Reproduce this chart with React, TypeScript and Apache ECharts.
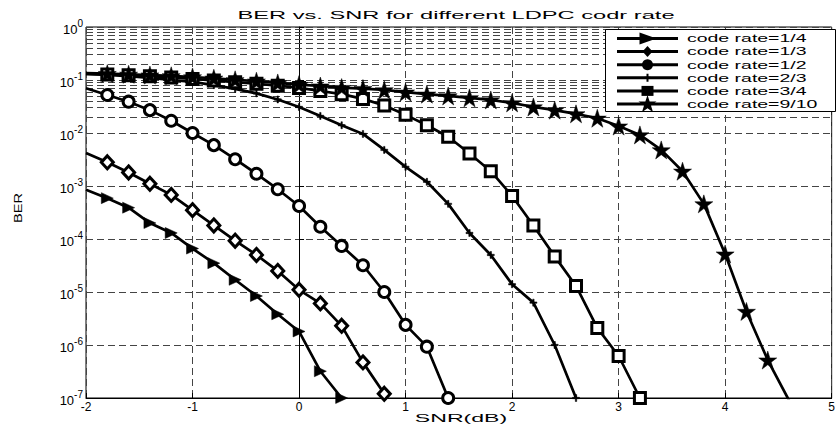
import React, { useEffect, useRef } from "react";
import * as echarts from "echarts";

// SNR (dB) sample points, step 0.2
const snr = [
  -2, -1.8, -1.6, -1.4, -1.2, -1, -0.8, -0.6, -0.4, -0.2, 0, 0.2, 0.4, 0.6, 0.8, 1,
  1.2, 1.4, 1.6, 1.8, 2, 2.2, 2.4, 2.6, 2.8, 3, 3.2, 3.4, 3.6, 3.8, 4, 4.2, 4.4, 4.6,
];

const rate14 = [8.5e-4, 5.9e-4, 3.9e-4, 2.0e-4, 1.3e-4, 6.6e-5, 3.5e-5, 1.7e-5, 8.4e-6, 3.8e-6, 1.8e-6, 3.2e-7, 1.0e-7];
const rate13 = [4.2e-3, 2.8e-3, 1.8e-3, 1.1e-3, 6.8e-4, 3.5e-4, 1.8e-4, 9.3e-5, 5.0e-5, 2.5e-5, 1.1e-5, 6.1e-6, 2.3e-6, 4.7e-7, 1.2e-7];
const rate12 = [7.0e-2, 5.2e-2, 3.9e-2, 2.7e-2, 1.7e-2, 1.0e-2, 5.9e-3, 3.2e-3, 1.7e-3, 8.7e-4, 4.2e-4, 1.7e-4, 7.4e-5, 3.2e-5, 1.0e-5, 2.4e-6, 9.3e-7, 1.0e-7];
const rate23 = [0.13, 0.125, 0.118, 0.11, 0.1, 0.092, 0.08, 0.068, 0.056, 0.043, 0.031, 0.021, 0.014, 9.6e-3, 4.8e-3, 2.3e-3, 1.2e-3, 4.6e-4, 1.3e-4, 5.0e-5, 1.4e-5, 6.3e-6, 1.0e-6, 1.0e-7];
const rate34 = [0.13, 0.127, 0.123, 0.118, 0.112, 0.105, 0.098, 0.091, 0.085, 0.078, 0.071, 0.062, 0.054, 0.044, 0.033, 0.022, 0.014, 8.5e-3, 4.1e-3, 1.9e-3, 6.5e-4, 1.8e-4, 4.7e-5, 1.3e-5, 2.1e-6, 6.2e-7, 1.0e-7];
const rate910 = [0.135, 0.132, 0.128, 0.124, 0.12, 0.114, 0.108, 0.101, 0.095, 0.088, 0.082, 0.077, 0.072, 0.069, 0.065, 0.059, 0.054, 0.05, 0.046, 0.042, 0.037, 0.031, 0.027, 0.023, 0.019, 0.0135, 9.2e-3, 4.8e-3, 1.9e-3, 4.6e-4, 5.2e-5, 4.3e-6, 5.2e-7, 9e-8];

const seriesNames = [
  "code rate=1/4",
  "code rate=1/3",
  "code rate=1/2",
  "code rate=2/3",
  "code rate=3/4",
  "code rate=9/10",
];
const titleText = "BER vs. SNR for different LDPC codr rate";
const xName = "SNR(dB)";
const yName = "BER";
const minorMultipliers = [2, 3, 4, 5, 6, 7, 8, 9];
const decadeExponents = [-7, -6, -5, -4, -3, -2, -1];

const FONT = '"Liberation Sans", Arial, Helvetica, sans-serif';
const GRID_COLOR = "#444";
const DASH = [7, 4];

const TRI_R = "path://M0,0 L10,5 L0,10 Z";
const PLUS = "path://M4,0 L6,0 L6,4 L10,4 L10,6 L6,6 L6,10 L4,10 L4,6 L0,6 L0,4 L4,4 Z";
const STAR =
  "path://M50,0 L61.23,34.55 L97.55,34.55 L68.16,55.9 L79.39,90.45 L50,69.1 L20.61,90.45 L31.84,55.9 L2.45,34.55 L38.77,34.55 Z";

function starPoints(cx: number, cy: number, R: number) {
  const pts: number[][] = [];
  for (let i = 0; i < 10; i++) {
    const r = i % 2 === 0 ? R : R * 0.382;
    const a = -Math.PI / 2 + (i * Math.PI) / 5;
    pts.push([cx + r * Math.cos(a), cy + r * Math.sin(a)]);
  }
  return pts;
}

function scaledText(text: string, x: number, y: number, size: number, sx: number, align: string, z: number, rotation = 0) {
  return {
    type: "text",
    x,
    y,
    rotation,
    scaleX: sx,
    z,
    silent: true,
    style: {
      text,
      fontSize: size,
      fontFamily: FONT,
      fill: "#000",
      textAlign: align,
      textVerticalAlign: "middle",
    },
  };
}

export default function App() {
  const ref = useRef<HTMLDivElement>(null);

  useEffect(() => {
    document.body.style.margin = "0";
    if (!ref.current) return;
    const chart = echarts.init(ref.current, null, { renderer: "svg" });

    const toData = (ys: number[]) =>
      ys.map((y, i) => (i === 0 ? { value: [snr[i], y], symbol: "none" } : [snr[i], y]));

    const minorVals: number[] = [];
    decadeExponents.forEach((e) =>
      minorMultipliers.forEach((k) => minorVals.push(k * Math.pow(10, e)))
    );

    const seriesDefs = [
      { data: rate14, symbol: TRI_R, size: [12, 11], fill: "#000" },
      { data: rate13, symbol: "diamond", size: [12, 13], fill: "#fff" },
      { data: rate12, symbol: "circle", size: 11, fill: "#fff" },
      { data: rate23, symbol: PLUS, size: 7, fill: "#000" },
      { data: rate34, symbol: "rect", size: 11, fill: "#fff" },
      { data: rate910, symbol: STAR, size: 18, fill: "#000" },
    ];

    const series: any[] = seriesDefs.map((d, idx) => ({
      type: "line",
      name: seriesNames[idx],
      data: toData(d.data),
      symbol: d.symbol,
      symbolSize: d.size,
      showSymbol: true,
      showAllSymbol: true,
      clip: true,
      lineStyle: { color: "#000", width: 2.7 },
      itemStyle: { color: d.fill, borderColor: "#000", borderWidth: d.fill === "#fff" ? 3 : 0.5 },
      emphasis: { disabled: true },
      z: 3,
    }));

    series[0].markLine = {
      silent: true,
      symbol: ["none", "none"],
      label: { show: false },
      z: 1,
      animation: false,
      lineStyle: { color: GRID_COLOR, width: 1, type: DASH },
      data: minorVals.map((v) => ({ yAxis: v })),
    };

    // legend drawn as graphic elements
    const legendX = 605;
    const legendY = 29;
    const rowY0 = 38.5;
    const rowStep = 13.1;
    const lineX1 = 617;
    const lineX2 = 678;
    const mx = 647.5;
    const LZ = 200;
    const legendEls: any[] = [
      {
        type: "rect",
        z: LZ,
        silent: true,
        shape: { x: legendX + 0.5, y: legendY + 0.5, width: 230, height: 82 },
        style: { fill: "#fff", stroke: "#000", lineWidth: 1 },
      },
    ];
    seriesNames.forEach((name, i) => {
      const cy = rowY0 + i * rowStep;
      legendEls.push({
        type: "line",
        z: LZ + 1,
        silent: true,
        shape: { x1: lineX1, y1: cy, x2: lineX2, y2: cy },
        style: { stroke: "#000", lineWidth: 3, fill: null },
      });
      let marker: any;
      if (i === 0)
        marker = { type: "polygon", shape: { points: [[mx - 8, cy - 6], [mx + 9, cy], [mx - 8, cy + 6]] } };
      else if (i === 1)
        marker = { type: "polygon", shape: { points: [[mx, cy - 5.5], [mx + 5, cy], [mx, cy + 5.5], [mx - 5, cy]] } };
      else if (i === 2) marker = { type: "circle", shape: { cx: mx, cy, r: 5.5 } };
      else if (i === 3)
        marker = {
          type: "polygon",
          shape: {
            points: [
              [mx - 1, cy - 4], [mx + 1, cy - 4], [mx + 1, cy - 1], [mx + 3, cy - 1], [mx + 3, cy + 1], [mx + 1, cy + 1],
              [mx + 1, cy + 4], [mx - 1, cy + 4], [mx - 1, cy + 1], [mx - 3, cy + 1], [mx - 3, cy - 1], [mx - 1, cy - 1],
            ],
          },
        };
      else if (i === 4) marker = { type: "rect", shape: { x: mx - 6, y: cy - 5, width: 12, height: 10 } };
      else marker = { type: "polygon", shape: { points: starPoints(mx, cy + 0.5, 9.5) } };
      marker.z = LZ + 2;
      marker.silent = true;
      marker.style = { fill: "#000", stroke: null };
      legendEls.push(marker);
      legendEls.push(scaledText(name, 687, cy, 11, 1.77, "left", LZ + 2));
    });

    const option: any = {
      animation: false,
      backgroundColor: "#fff",
      grid: {
        left: 86,
        right: 2,
        top: 27,
        bottom: 28,
        show: true,
        borderColor: "#000",
        borderWidth: 1,
        backgroundColor: "transparent",
        containLabel: false,
      },
      xAxis: {
        type: "value",
        min: -2,
        max: 5,
        interval: 1,
        axisLine: { show: true, lineStyle: { color: "#000", width: 1 } },
        axisTick: { show: true, inside: true, length: 5, lineStyle: { color: "#000" } },
        axisLabel: { color: "#000", fontSize: 12, fontFamily: FONT, margin: 3 },
        splitLine: { show: true, lineStyle: { color: GRID_COLOR, width: 1, type: DASH } },
      },
      yAxis: {
        type: "log",
        logBase: 10,
        min: 1e-7,
        max: 1,
        splitNumber: 7,
        axisLine: { show: true, lineStyle: { color: "#000", width: 1 } },
        axisTick: { show: true, inside: true, length: 5, lineStyle: { color: "#000" } },
        axisLabel: {
          margin: 3,
          formatter: (v: number) => {
            const e = Math.round(Math.log10(v));
            return `{b|10}{e|${e}}`;
          },
          rich: {
            b: { fontSize: 13, fontFamily: FONT, color: "#000", lineHeight: 17, verticalAlign: "bottom" },
            e: { fontSize: 10, fontFamily: FONT, color: "#000", lineHeight: 17, verticalAlign: "top" },
          },
        },
        splitLine: { show: true, lineStyle: { color: GRID_COLOR, width: 1, type: DASH } },
      },
      series,
      graphic: [
        scaledText(titleText, 456, 15, 11, 2.15, "center", 10),
        scaledText(xName, 461, 418, 11, 2.1, "center", 10),
        scaledText(yName, 18, 208, 11, 1.33, "center", 10, Math.PI / 2),
        ...legendEls,
      ],
    };

    chart.setOption(option);
    return () => chart.dispose();
  }, []);

  return <div ref={ref} style={{ width: 838, height: 426 }} />;
}
